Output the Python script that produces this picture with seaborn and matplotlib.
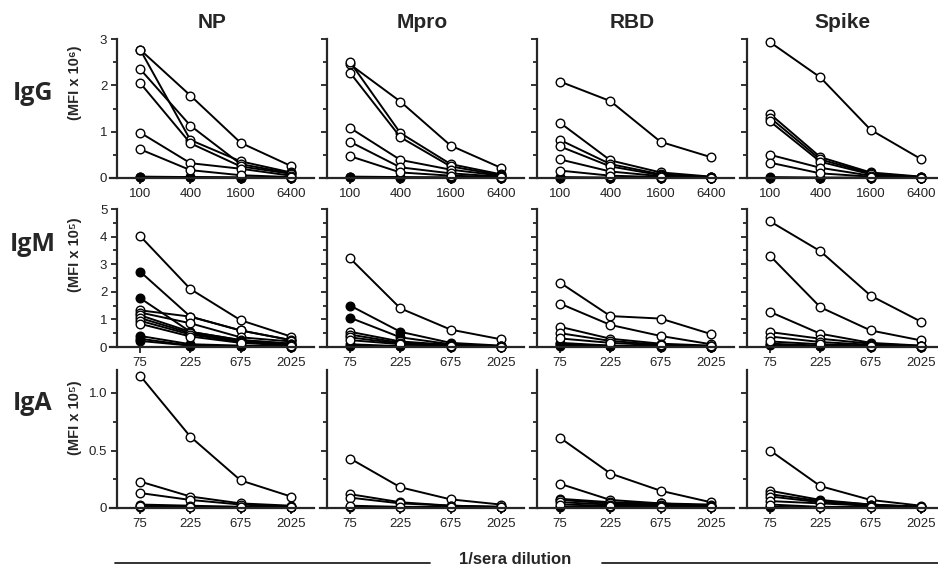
import numpy as np
import pandas as pd
import matplotlib
matplotlib.use('Agg')
import matplotlib.pyplot as plt
import seaborn as sns
from matplotlib.lines import Line2D
from matplotlib.ticker import MultipleLocator

#------------------------------ Datos ------------------------------------------------------------#
antigens = ['NP', 'Mpro', 'RBD', 'Spike']
isotypes = ['IgG', 'IgM', 'IgA']
dil_igg = ['100', '400', '1600', '6400']
dil_igm_iga = ['75', '225', '675', '2025']
ylabels = ['(MFI x 10⁶)', '(MFI x 10⁵)', '(MFI x 10⁵)']
ytick_igg = [0, 1, 2, 3]
ytick_igm = [0, 1, 2, 3, 4, 5]
ytick_iga = [0, 0.5, 1.0]
ytick_iga_labels = ['0', '0.5', '1.0']

# IgG (MFI x 10^6)
igg_np_open = [[2.77, 1.78, 0.76, 0.26], [2.77, 0.82, 0.36, 0.12], [2.35, 1.13, 0.30, 0.10],
               [2.05, 0.75, 0.25, 0.09], [0.98, 0.32, 0.20, 0.05], [0.62, 0.17, 0.06, 0.02]]
igg_np_filled = [[0.03, 0.02, 0.01, 0.01], [0.02, 0.02, 0.01, 0.01]]
igg_mpro_open = [[2.45, 1.65, 0.70, 0.22], [2.50, 0.97, 0.30, 0.08], [2.27, 0.88, 0.25, 0.06],
                 [1.08, 0.39, 0.18, 0.05], [0.78, 0.23, 0.10, 0.03], [0.47, 0.12, 0.05, 0.02]]
igg_mpro_filled = [[0.03, 0.02, 0.01, 0.01], [0.02, 0.01, 0.01, 0.01]]
igg_rbd_open = [[2.08, 1.66, 0.78, 0.45], [1.19, 0.38, 0.12, 0.03], [0.82, 0.30, 0.08, 0.02],
                [0.68, 0.25, 0.06, 0.02], [0.40, 0.14, 0.04, 0.01], [0.16, 0.05, 0.02, 0.01]]
igg_rbd_filled = [[0.02, 0.01, 0.01, 0.01], [0.01, 0.01, 0.01, 0.01]]
igg_spike_open = [[2.93, 2.17, 1.04, 0.41], [1.38, 0.45, 0.12, 0.03], [1.30, 0.40, 0.10, 0.02],
                  [1.22, 0.35, 0.08, 0.02], [0.50, 0.22, 0.05, 0.01], [0.33, 0.10, 0.03, 0.01]]
igg_spike_filled = [[0.02, 0.01, 0.01, 0.01], [0.01, 0.01, 0.01, 0.01]]

# IgM (MFI x 10^5)
igm_np_open = [[4.02, 2.10, 0.97, 0.38], [1.33, 1.10, 0.60, 0.25], [1.25, 0.86, 0.35, 0.20],
               [1.15, 0.55, 0.25, 0.12], [1.05, 0.50, 0.20, 0.10], [0.95, 0.45, 0.18, 0.08],
               [0.84, 0.38, 0.15, 0.05]]
igm_np_filled = [[2.73, 1.10, 0.60, 0.25], [1.77, 0.55, 0.25, 0.12], [0.40, 0.10, 0.05, 0.02],
                 [0.30, 0.05, 0.03, 0.01], [0.22, 0.05, 0.02, 0.01]]
igm_mpro_open = [[3.21, 1.40, 0.63, 0.28], [0.55, 0.20, 0.08, 0.03], [0.45, 0.15, 0.06, 0.02],
                 [0.35, 0.12, 0.05, 0.02], [0.25, 0.10, 0.04, 0.01]]
igm_mpro_filled = [[1.50, 0.55, 0.15, 0.05], [1.06, 0.35, 0.10, 0.03], [0.10, 0.03, 0.02, 0.01],
                   [0.05, 0.02, 0.01, 0.01]]
igm_rbd_open = [[2.33, 1.12, 1.03, 0.47], [1.57, 0.80, 0.40, 0.10], [0.73, 0.30, 0.12, 0.05],
                [0.50, 0.22, 0.08, 0.03], [0.31, 0.15, 0.06, 0.02]]
igm_rbd_filled = [[0.15, 0.05, 0.03, 0.01], [0.10, 0.04, 0.02, 0.01], [0.05, 0.02, 0.01, 0.01]]
igm_spike_open = [[4.55, 3.47, 1.86, 0.92], [3.30, 1.44, 0.60, 0.24], [1.27, 0.48, 0.15, 0.05],
                  [0.54, 0.30, 0.12, 0.04], [0.38, 0.18, 0.08, 0.03], [0.20, 0.10, 0.05, 0.02]]
igm_spike_filled = [[0.12, 0.05, 0.02, 0.01], [0.06, 0.03, 0.01, 0.01]]

# IgA (MFI x 10^5)
iga_np_open = [[1.15, 0.62, 0.24, 0.10], [0.23, 0.10, 0.04, 0.02], [0.13, 0.07, 0.03, 0.01],
               [0.03, 0.02, 0.01, 0.01], [0.02, 0.01, 0.01, 0.005]]
iga_np_filled = [[0.01, 0.01, 0.005, 0.005]]
iga_mpro_open = [[0.43, 0.18, 0.075, 0.03], [0.12, 0.05, 0.02, 0.01], [0.09, 0.04, 0.02, 0.01],
                 [0.02, 0.01, 0.01, 0.005]]
iga_mpro_filled = [[0.01, 0.005, 0.005, 0.005]]
iga_rbd_open = [[0.61, 0.30, 0.15, 0.05], [0.21, 0.07, 0.04, 0.03], [0.08, 0.05, 0.04, 0.02],
                [0.07, 0.04, 0.03, 0.02], [0.05, 0.03, 0.02, 0.01], [0.03, 0.02, 0.01, 0.01]]
iga_rbd_filled = [[0.01, 0.01, 0.005, 0.005]]
iga_spike_open = [[0.50, 0.19, 0.07, 0.02], [0.15, 0.07, 0.03, 0.01], [0.12, 0.06, 0.03, 0.01],
                  [0.10, 0.05, 0.02, 0.01], [0.06, 0.04, 0.02, 0.01], [0.03, 0.01, 0.01, 0.005]]
iga_spike_filled = [[0.01, 0.005, 0.005, 0.005]]

panels = {
    ('IgG', 'NP'): (igg_np_open, igg_np_filled),
    ('IgG', 'Mpro'): (igg_mpro_open, igg_mpro_filled),
    ('IgG', 'RBD'): (igg_rbd_open, igg_rbd_filled),
    ('IgG', 'Spike'): (igg_spike_open, igg_spike_filled),
    ('IgM', 'NP'): (igm_np_open, igm_np_filled),
    ('IgM', 'Mpro'): (igm_mpro_open, igm_mpro_filled),
    ('IgM', 'RBD'): (igm_rbd_open, igm_rbd_filled),
    ('IgM', 'Spike'): (igm_spike_open, igm_spike_filled),
    ('IgA', 'NP'): (iga_np_open, iga_np_filled),
    ('IgA', 'Mpro'): (iga_mpro_open, iga_mpro_filled),
    ('IgA', 'RBD'): (iga_rbd_open, iga_rbd_filled),
    ('IgA', 'Spike'): (iga_spike_open, iga_spike_filled),
}

#------------------------------ Tabla larga ------------------------------------------------------------#
rows = []
for (iso, ag), (open_s, filled_s) in panels.items():
    for kind, series in (('filled', filled_s), ('open', open_s)):
        for i, vals in enumerate(series):
            for p, v in enumerate(vals):
                rows.append({'iso': iso, 'ag': ag, 'kind': kind,
                             'serum': f'{kind}{i}', 'pos': p, 'mfi': v})
df = pd.DataFrame(rows)

#------------------------------ Figura ------------------------------------------------------------#
sns.set_style('ticks')
plt.rcParams['font.family'] = ['Liberation Sans', 'DejaVu Sans']

fig = plt.figure(figsize=(9.38, 5.74), dpi=100)
W, H = 938, 574
col_left = [110, 320, 530, 740]
row_top = [39, 209, 370]
row_bot = [178, 347, 508]
ymax = [3, 5, 1.2]

for r, iso in enumerate(isotypes):
    for c, ag in enumerate(antigens):
        ax = fig.add_axes([col_left[c] / W, 1 - row_bot[r] / H, 204 / W,
                           (row_bot[r] - row_top[r]) / H])
        sub = df[(df['iso'] == iso) & (df['ag'] == ag)]
        for kind, face in (('filled', 'black'), ('open', 'white')):
            d = sub[sub['kind'] == kind]
            sns.lineplot(data=d, x='pos', y='mfi', units='serum', estimator=None,
                         sort=False, color='black', lw=1.4, marker='o', ms=6.2,
                         markerfacecolor=face, markeredgecolor='black',
                         markeredgewidth=1.0, clip_on=False, ax=ax, legend=False)
        ax.set_xlim(-0.6, 3.46)
        ax.set_ylim(0, ymax[r])
        ax.spines['left'].set_position(('data', -0.46))
        for s in ('top', 'right'):
            ax.spines[s].set_visible(False)
        for s in ('left', 'bottom'):
            ax.spines[s].set_linewidth(1.6)
        ax.set_xticks(range(4))
        ax.set_xticklabels(dil_igg if r == 0 else dil_igm_iga)
        if r == 0:
            ax.set_yticks(ytick_igg)
            ax.yaxis.set_minor_locator(MultipleLocator(0.5))
        elif r == 1:
            ax.set_yticks(ytick_igm)
            ax.yaxis.set_minor_locator(MultipleLocator(0.5))
        else:
            ax.set_yticks(ytick_iga, ytick_iga_labels)
            ax.yaxis.set_minor_locator(MultipleLocator(0.25))
        if c > 0:
            ax.set_yticklabels([])
        ax.tick_params(axis='both', which='major', length=4, width=1.3,
                       labelsize=9.5, colors='#222222', pad=3)
        ax.tick_params(axis='y', which='minor', length=3, width=1.3)
        ax.set_xlabel('')
        ax.set_ylabel('')
        if r == 0:
            ax.set_title(ag, fontsize=15, fontweight='bold', pad=8)

# Etiquetas de filas
row_lab_y = [93, 245, 403]
ylab_y = [83, 255, 418]
for r, iso in enumerate(isotypes):
    fig.text(33 / W, 1 - row_lab_y[r] / H, iso, fontsize=18, fontweight='bold',
             family=['Open Sans', 'DejaVu Sans'], ha='center', va='center')
    fig.text(75 / W, 1 - ylab_y[r] / H, ylabels[r], fontsize=10.5, fontweight='bold',
             rotation=90, ha='center', va='center')

# Eje x común
fig.text(515 / W, 1 - 559 / H, '1/sera dilution', fontsize=12, fontweight='bold',
         ha='center', va='center')
fig.add_artist(Line2D([115 / W, 430 / W], [1 - 563 / H] * 2, color='#222222', lw=1.3))
fig.add_artist(Line2D([602 / W, 1.0], [1 - 563 / H] * 2, color='#222222', lw=1.3))

fig.savefig('out.png', dpi=100)
